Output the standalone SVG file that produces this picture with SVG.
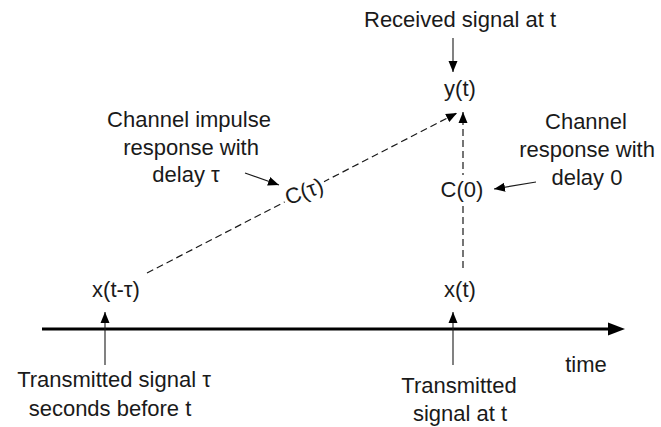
<svg xmlns="http://www.w3.org/2000/svg" width="661" height="427" viewBox="0 0 661 427">
  <style>
    text { font-family: "Liberation Sans", Arial, sans-serif; font-size: 22px; fill: #1a1a1a; text-anchor: middle; }
    .dash { stroke: #1a1a1a; stroke-width: 1.2; stroke-dasharray: 7 4; fill: none; }
    .thin { stroke: #1a1a1a; stroke-width: 1.1; fill: none; }
    .axis { stroke: #000; stroke-width: 3; fill: none; }
    .bg { fill: #fff; }
  </style>
  <defs>
    <marker id="head" markerUnits="userSpaceOnUse" markerWidth="12" markerHeight="10" refX="11" refY="5" orient="auto">
      <path d="M0,0.5 L11,5 L0,9.5 Z" fill="#000"/>
    </marker>
    <marker id="bighead" markerUnits="userSpaceOnUse" markerWidth="18" markerHeight="14" refX="2" refY="7" orient="auto">
      <path d="M0,0.5 L17,7 L0,13.5 Z" fill="#000"/>
    </marker>
  </defs>

  <rect width="661" height="427" fill="#fff"/>

  <!-- connectors -->
  <g id="connectors">
    <!-- time axis -->
    <line class="axis" x1="42" y1="329" x2="610" y2="329" marker-end="url(#bighead)"/>
    <!-- input instants on the axis -->
    <line class="thin" x1="105" y1="365" x2="105" y2="312" marker-end="url(#head)"/>
    <line class="thin" x1="453" y1="365" x2="453" y2="312" marker-end="url(#head)"/>
    <!-- delayed and direct paths to the output -->
    <line class="dash" x1="147" y1="273" x2="457" y2="113" marker-end="url(#head)"/>
    <line class="dash" x1="463" y1="268" x2="463" y2="112" marker-end="url(#head)"/>
    <!-- annotation pointers -->
    <line class="thin" x1="453" y1="38" x2="453" y2="72" marker-end="url(#head)"/>
    <line class="thin" x1="245" y1="173" x2="279" y2="185" marker-end="url(#head)"/>
    <line class="thin" x1="536" y1="182" x2="494" y2="189" marker-end="url(#head)"/>
  </g>

  <g id="received-label">
    <text x="460" y="27">Received signal at t</text>
  </g>

  <g id="y-node">
    <text x="460" y="96">y(t)</text>
  </g>

  <g id="impulse-label">
    <text x="189" y="127">Channel impulse</text>
    <text x="191" y="155">response with</text>
    <text x="186" y="182">delay τ</text>
  </g>

  <g id="c-tau" transform="translate(304,191) rotate(-20)">
    <rect class="bg" x="-22" y="-9" width="44" height="18"/>
    <text x="0" y="8">C(τ)</text>
  </g>

  <g id="zero-label">
    <text x="586" y="129">Channel</text>
    <text x="587" y="157">response with</text>
    <text x="587" y="185">delay 0</text>
  </g>

  <g id="c-zero">
    <rect class="bg" x="441" y="175" width="44" height="27"/>
    <text x="462" y="197">C(0)</text>
  </g>

  <g id="x-delayed">
    <text x="116" y="297">x(t-τ)</text>
  </g>

  <g id="x-now">
    <text x="460" y="297">x(t)</text>
  </g>

  <g id="time-label">
    <text x="586" y="372">time</text>
  </g>

  <g id="tx-delayed-label">
    <text x="114" y="387">Transmitted signal τ</text>
    <text x="110" y="416">seconds before t</text>
  </g>

  <g id="tx-now-label">
    <text x="459" y="393">Transmitted</text>
    <text x="460" y="421">signal at t</text>
  </g>
</svg>
